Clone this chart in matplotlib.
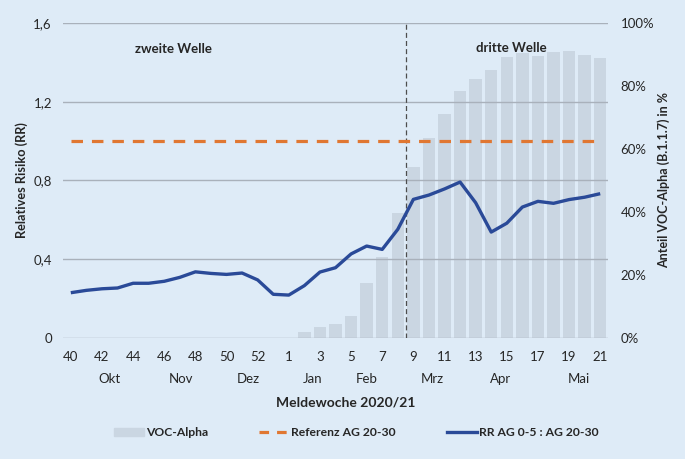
import numpy as np
import matplotlib
matplotlib.use('Agg')
import matplotlib.pyplot as plt
from matplotlib.patches import Patch
from matplotlib.lines import Line2D

############### 0. Data
weeks = list(range(40, 54)) + list(range(1, 22))
rr_ag0_5 = [0.230, 0.242, 0.250, 0.254, 0.278, 0.278, 0.288, 0.308, 0.336, 0.328,
            0.323, 0.330, 0.295, 0.222, 0.218, 0.266, 0.335, 0.357, 0.427, 0.467,
            0.450, 0.552, 0.704, 0.726, 0.757, 0.792, 0.687, 0.538, 0.583, 0.665,
            0.694, 0.684, 0.703, 0.715, 0.733]
# VOC-Alpha share in %, nan = no data
voc_alpha = [np.nan] * 15 + [2.0, 3.6, 4.4, 7.0, 17.5, 25.7, 39.8, 54.4, 63.4, 71.1,
                             78.4, 82.2, 85.1, 89.2, 90.6, 89.5, 90.9, 91.1, 89.8, 88.8]
referenz = 1.0
months = ['Okt', 'Nov', 'Dez', 'Jan', 'Feb', 'Mrz', 'Apr', 'Mai']
month_pos = [2.5, 7.1, 11.4, 15.5, 19.0, 23.2, 27.6, 32.6]
welle_split = 21.5

############### 1. Style
bg = '#deebf7'
bar_color = '#cad6e2'
orange = '#e07732'
blue = '#2a4a98'
grid_color = '#a9b1bb'
txt = '#262626'
plt.rcParams['font.family'] = ['Lato', 'DejaVu Sans']
plt.rcParams['font.size'] = 9.5

fig = plt.figure(figsize=(6.85, 4.59), dpi=100, facecolor=bg)
ax2 = fig.add_axes([0.092, 0.2636, 0.7956, 0.6864])
ax = ax2.twinx()
ax.set_zorder(ax2.get_zorder() + 1)
ax.patch.set_visible(False)
ax2.set_facecolor(bg)

x = np.arange(len(weeks))

############### 2. Bars (right axis)
ax2.bar(x, voc_alpha, width=0.8, color=bar_color, zorder=1)
ax2.set_ylim(0, 100)
ax2.set_yticks([0, 20, 40, 60, 80, 100])
ax2.set_xlim(-0.5, len(weeks) - 0.5)

############### 3. Lines (left axis)
for g in [0, 0.4, 0.8, 1.2, 1.6]:
    ax.axhline(g, color=grid_color, lw=1, zorder=1)
ax.axvline(welle_split, color='#4d4d4d', lw=0.9, ls=(0, (4, 2.5)), zorder=2)
ax.plot(x, [referenz] * len(x), color=orange, lw=2.3, dashes=(3.6, 2.8), zorder=3)
ax.plot(x, rr_ag0_5, color=blue, lw=2.4, zorder=4, solid_capstyle='butt')
ax.set_ylim(0, 1.6)

# the twin axis puts left on the right: swap sides
ax.yaxis.tick_left()
ax.yaxis.set_label_position('left')
ax2.yaxis.tick_right()
ax2.yaxis.set_label_position('right')

ax.set_yticks([0, 0.4, 0.8, 1.2, 1.6])
ax.set_yticklabels(['0', '0,4', '0,8', '1,2', '1,6'], color=txt)
ax2.set_yticklabels([f'{v}%' for v in [0, 20, 40, 60, 80, 100]], color=txt)

xt = [i for i, w in enumerate(weeks) if (w >= 40 and w % 2 == 0) or (w < 40 and w % 2 == 1)]
ax2.set_xticks(xt)
ax2.set_xticklabels([str(weeks[i]) for i in xt], color=txt)
ax.tick_params(labelbottom=False)

for a in (ax, ax2):
    for s in a.spines.values():
        s.set_visible(False)
    a.tick_params(length=0)
ax.tick_params(axis='y', pad=8)
ax2.tick_params(axis='y', pad=9)
ax2.tick_params(axis='x', pad=9)

for m, p in zip(months, month_pos):
    ax2.text(p, -13, m, ha='center', va='center', color=txt, fontsize=9.5)

ax.set_ylabel('Relatives Risiko (RR)', fontweight='bold', color=txt, labelpad=4, fontsize=9.2)
ax2.set_ylabel('Anteil VOC-Alpha (B.1.1.7) in %', fontweight='bold', color=txt, labelpad=2, fontsize=9)
fig.text(0.505, 0.123, 'Meldewoche 2020/21', ha='center', va='center',
         fontweight='bold', color=txt, fontsize=10)

ax.text(6.6, 1.47, 'zweite Welle', ha='center', va='center', fontweight='bold', color=txt, fontsize=9.5)
ax.text(28.3, 1.475, 'dritte Welle', ha='center', va='center', fontweight='bold', color=txt, fontsize=9.5)

handles = [Patch(color=bar_color, label='VOC-Alpha'),
           Line2D([], [], color=orange, lw=2.3, dashes=(3, 2.5), label='Referenz AG 20-30'),
           Line2D([], [], color=blue, lw=2.4, label='RR AG 0-5 : AG 20-30')]
leg = fig.legend(handles=handles, loc='center', bbox_to_anchor=(0.52, 0.057), ncol=3,
                 frameon=False, columnspacing=4.2, handlelength=2.5, handletextpad=0.15,
                 prop={'size': 8.7, 'weight': 'bold'})
for t in leg.get_texts():
    t.set_color(txt)

fig.savefig('out.png', dpi=100, facecolor=bg)
